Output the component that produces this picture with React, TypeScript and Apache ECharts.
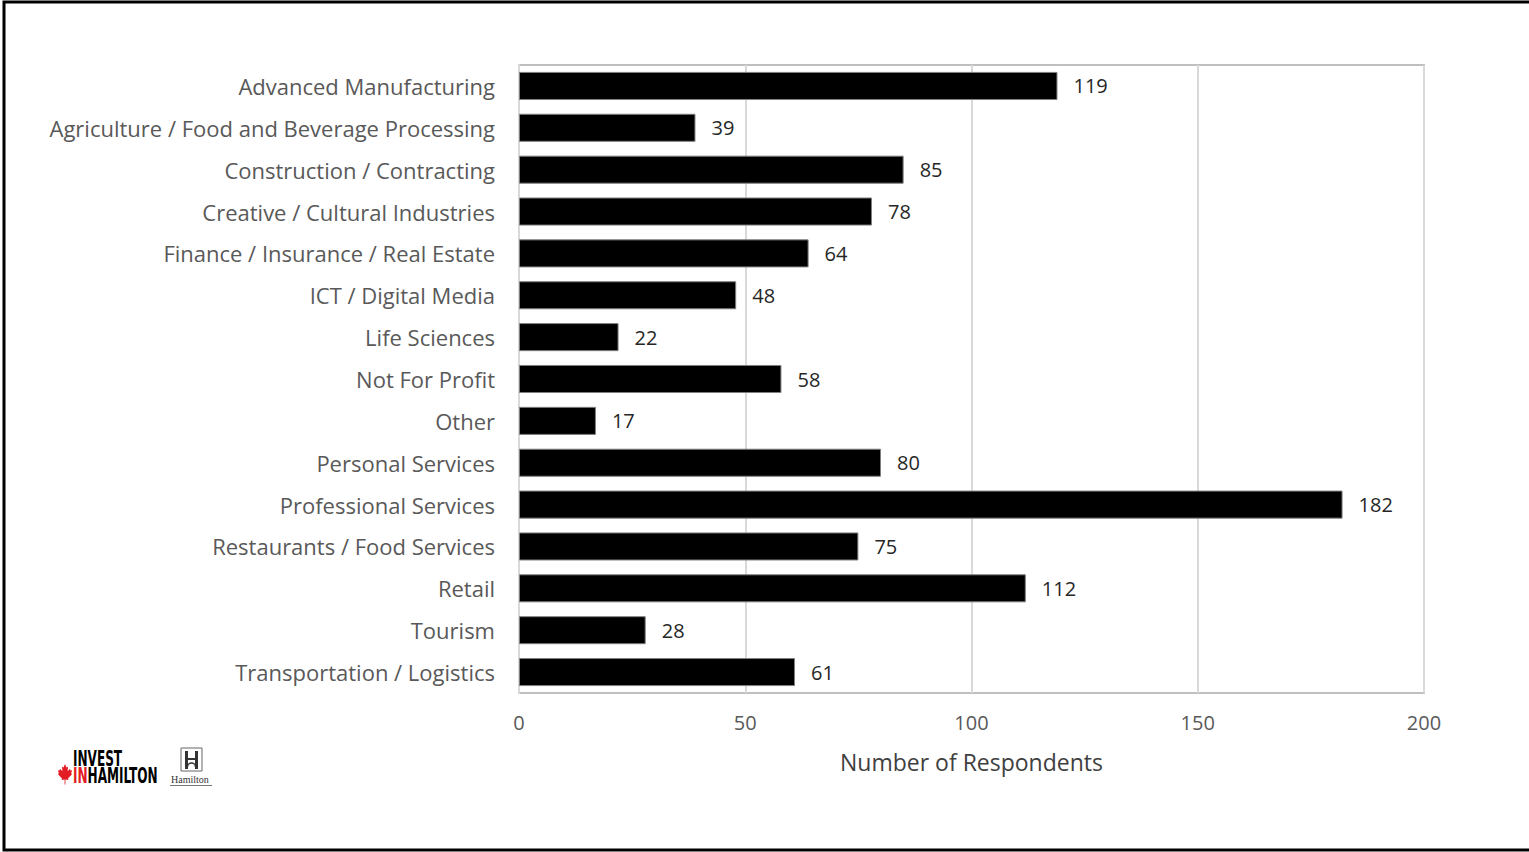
import React, { useEffect, useRef } from "react";
import * as echarts from "echarts";

const categories = [
  "Advanced Manufacturing",
  "Agriculture / Food and Beverage Processing",
  "Construction / Contracting",
  "Creative / Cultural Industries",
  "Finance / Insurance / Real Estate",
  "ICT / Digital Media",
  "Life Sciences",
  "Not For Profit",
  "Other",
  "Personal Services",
  "Professional Services",
  "Restaurants / Food Services",
  "Retail",
  "Tourism",
  "Transportation / Logistics",
];
const respondents = [119, 39, 85, 78, 64, 48, 22, 58, 17, 80, 182, 75, 112, 28, 61];
const xTicks = { min: 0, max: 200, interval: 50 };
const axisTitle = "Number of Respondents";

const leafPath =
  "M7 0 L8.5 3 L10 2.2 L9.6 6 L12 4 L12.5 5.5 L14 5.2 L13.2 8 L14 8.6 L10 12 L10.4 13.4 L7.4 13 L7.4 17 L6.6 17 L6.6 13 L3.6 13.4 L4 12 L0 8.6 L0.8 8 L0 5.2 L1.5 5.5 L2 4 L4.4 6 L4 2.2 L5.5 3 Z";

export default function App() {
  const ref = useRef<HTMLDivElement>(null);
  useEffect(() => {
    if (!ref.current) return;
    echarts.graphic.registerShape("leaf", echarts.graphic.extendPath(leafPath, {}) as any);
    const chart = echarts.init(ref.current, null, { renderer: "svg" });
    const font = "'Open Sans', 'Noto Sans', sans-serif";
    const logoFont = "bold 22px 'Liberation Sans Narrow', 'DejaVu Sans Condensed', sans-serif";
    chart.setOption({
      animation: false,
      backgroundColor: "#ffffff",
      grid: { left: 519, right: 105, top: 65, bottom: 159, containLabel: false, show: true, borderColor: "#bfbfbf", borderWidth: 2 },
      xAxis: {
        type: "value",
        min: xTicks.min,
        max: xTicks.max,
        interval: xTicks.interval,
        axisLine: { show: false },
        axisTick: { show: false },
        splitLine: { show: true, lineStyle: { color: "#d9d9d9", width: 2 } },
        axisLabel: { color: "#595959", fontSize: 20, fontFamily: font, margin: 19 },
        name: axisTitle,
        nameLocation: "middle",
        nameGap: 57,
        nameTextStyle: { color: "#404040", fontSize: 23, fontFamily: font },
      },
      yAxis: {
        type: "category",
        data: categories,
        inverse: true,
        axisLine: { show: true, lineStyle: { color: "#d9d9d9", width: 2 } },
        axisTick: { show: false },
        axisLabel: { color: "#595959", fontSize: 22, fontFamily: font, margin: 24 },
      },
      series: [
        {
          type: "bar",
          data: respondents,
          barCategoryGap: "33%",
          itemStyle: { color: "#000000", borderColor: "#7f7f7f", borderWidth: 1 },
          label: {
            show: true,
            position: "right",
            distance: 16,
            color: "#262626",
            fontSize: 20,
            fontFamily: font,
          },
        },
      ],
      graphic: [
        {
          type: "rect",
          shape: { x: 4, y: 2, width: 1560, height: 848 },
          style: { fill: "none", stroke: "#000000", lineWidth: 3 },
          silent: true,
        },
        {
          type: "text",
          x: 73,
          y: 747,
          scaleX: 0.61,
          style: { text: "INVEST", fill: "#000", font: logoFont },
        },
        {
          type: "text",
          x: 73,
          y: 764,
          scaleX: 0.61,
          style: {
            text: "{r|IN}{b|HAMILTON}",
            rich: {
              r: { fill: "#e31b23", font: logoFont },
              b: { fill: "#000", font: logoFont },
            },
          },
        },
        {
          type: "leaf",
          x: 58,
          y: 764,
          scaleX: 1.0,
          scaleY: 1.2,
          style: { fill: "#e31b23" },
        },
        {
          type: "group",
          children: [
            { type: "rect", shape: { x: 181, y: 748, width: 21, height: 23 }, style: { fill: "none", stroke: "#666", lineWidth: 1 } },
            { type: "rect", shape: { x: 185, y: 751, width: 3, height: 18 }, style: { fill: "#333" } },
            { type: "rect", shape: { x: 195, y: 751, width: 3, height: 18 }, style: { fill: "#333" } },
            { type: "rect", shape: { x: 188, y: 758, width: 7, height: 2 }, style: { fill: "#333" } },
            { type: "arc", shape: { cx: 191.5, cy: 767, r: 4, startAngle: Math.PI, endAngle: 0 }, style: { stroke: "#333", lineWidth: 1.5, fill: "none" } },
            { type: "text", x: 171, y: 774, style: { text: "Hamilton", fill: "#333", font: "10px 'Liberation Serif', 'DejaVu Serif', serif" } },
            { type: "line", shape: { x1: 170, y1: 785.5, x2: 212, y2: 785.5 }, style: { stroke: "#777", lineWidth: 1 } },
          ],
        },
      ],
    });
    return () => chart.dispose();
  }, []);
  return (
    <div
      ref={ref}
      style={{ position: "absolute", left: 0, top: 0, width: 1529, height: 852 }}
    />
  );
}
